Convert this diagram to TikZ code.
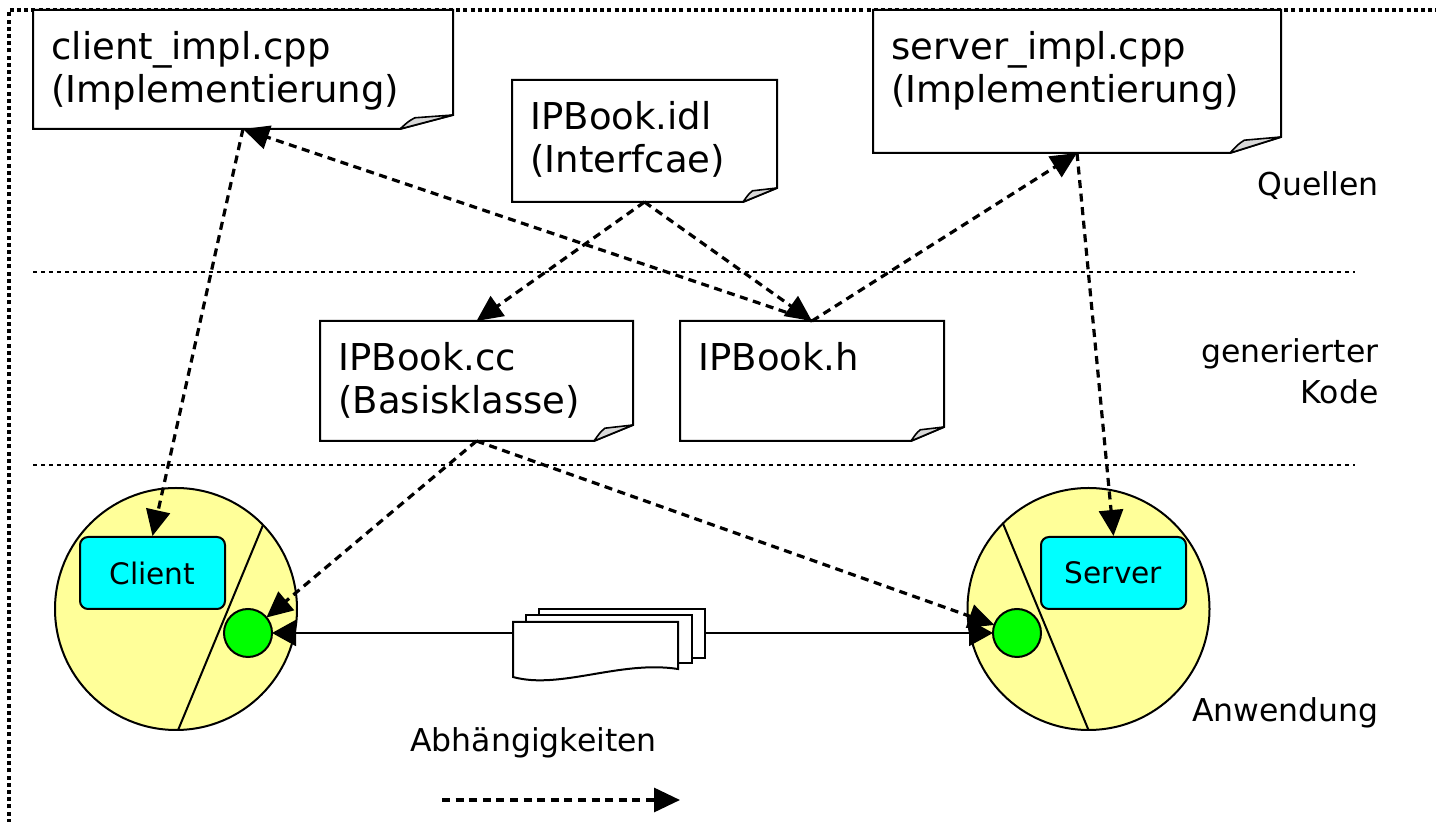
\documentclass[tikz,border=0pt]{standalone}
\usepackage{fontspec}
\setmainfont{DejaVu Sans}
\usetikzlibrary{arrows.meta,calc}
\definecolor{circfill}{HTML}{FFFF99}
\definecolor{boxcyan}{HTML}{00FFFF}
\definecolor{dotgreen}{HTML}{00FF00}
\definecolor{foldgray}{HTML}{D9D9D9}
\begin{document}
\begin{tikzpicture}[x=0.5pt,y=-0.5pt,
  docbox/.style={rectangle, draw=none, inner sep=0pt, outer sep=0pt, anchor=north west},
  doctext/.style={anchor=north west, inner sep=0pt, align=left, font=\fontsize{18.5}{21.5}\selectfont},
  docline/.style={draw=black, line width=1pt, fill=white, line join=miter},
  foldshape/.style={draw=black, line width=0.8pt, fill=foldgray, line join=round},
  dep/.style={line width=1.6pt, dash pattern=on 4pt off 2.8pt, -{Triangle[length=13pt,width=12pt]}},
  msg/.style={line width=1pt, -{Triangle[length=12pt,width=13pt]}},
  divider/.style={line width=1.2pt, dash pattern=on 2pt off 2pt},
  framestyle/.style={line width=1.6pt, dash pattern=on 2pt off 1.6pt},
  app/.style={circle, draw=black, line width=1pt, fill=circfill, minimum size=121pt, inner sep=0pt, outer sep=0pt},
  comp/.style={rectangle, rounded corners=4pt, draw=black, line width=1pt, fill=boxcyan, minimum width=72.5pt, minimum height=36pt, inner sep=0pt, font=\fontsize{14.8}{17}\selectfont},
  port/.style={circle, draw=black, line width=1pt, fill=dotgreen, minimum size=24pt, inner sep=0pt, outer sep=0pt},
  side/.style={inner sep=0pt, anchor=base east, font=\fontsize{15.75}{19}\selectfont, align=right},
]
\useasboundingbox (0,0) rectangle (1436,822);

% outer frame and dividers
\draw[framestyle] (9,830) -- (9,10) -- (1440,10);
\draw[divider] (33,272) -- (1355,272);
\draw[divider] (33,465) -- (1355,465);

% document boxes
\node[docbox, minimum width=210pt, minimum height=59.5pt] (ci) at (33,10) {};
\node[docbox, minimum width=204pt, minimum height=71.5pt] (si) at (873,10) {};
\node[docbox, minimum width=132.5pt, minimum height=61pt] (idl) at (512,80) {};
\node[docbox, minimum width=156.5pt, minimum height=60pt] (cc) at (320,321) {};
\node[docbox, minimum width=132pt, minimum height=60pt] (h) at (680,321) {};

\foreach \n/\fw/\fh in {ci/26.5pt/7pt, si/25.5pt/8pt, idl/17pt/7pt, cc/19.5pt/8pt, h/16.5pt/7pt}{
  \draw[docline] (\n.north west) -- (\n.north east) -- ([yshift=\fh]\n.south east)
     -- ([xshift=-\fw]\n.south east) -- (\n.south west) -- cycle;
  \draw[foldshape] ([xshift=-\fw]\n.south east)
     .. controls ([shift={(-0.84*\fw,0.55*\fh)}]\n.south east) .. ([shift={(-0.72*\fw,0.8*\fh)}]\n.south east)
     -- ([yshift=\fh]\n.south east) -- cycle;
}

\node[doctext] (ci-t) at ([shift={(9pt,-9.3pt)}]ci.north west) {\strut client\_impl.cpp\\\strut(Implementierung)};
\node[doctext] (si-t) at ([shift={(9pt,-9.3pt)}]si.north west) {\strut server\_impl.cpp\\\strut(Implementierung)};
\node[doctext] (idl-t) at ([shift={(9pt,-9.3pt)}]idl.north west) {\strut IPBook.idl\\\strut(Interfcae)};
\node[doctext] (cc-t) at ([shift={(9pt,-9.3pt)}]cc.north west) {\strut IPBook.cc\\\strut(Basisklasse)};
\node[doctext] (h-t) at ([shift={(9pt,-9.3pt)}]h.north west) {\strut IPBook.h};

% applications
\node[app] (capp) at (176,609) {};
\node[app] (sapp) at (1088.5,609) {};
\draw[line width=1pt] (capp.44.7) -- (capp.-89.5);
\draw[line width=1pt] (sapp.135.2) -- (sapp.-90);
\node[comp] (cbox) at (152.5,573) {Client};
\node[comp] (sbox) at (1113.5,573) {Server};
\node[port] (cport) at (248,633) {};
\node[port] (sport) at (1017,633) {};

% message (multi-document)
\begin{scope}[line width=1pt]
  \filldraw[fill=white] (539,609) rectangle (705,658);
  \filldraw[fill=white] (526,615) rectangle (692,663);
  \filldraw[fill=white] (513,622) -- (678,622) -- (678,669)
     .. controls (620,660) and (560,690) .. (513,677) -- cycle;
\end{scope}
\coordinate (msgL) at (513,633);
\coordinate (msgR) at (705,633);
\draw[msg] (msgL) -- (cport);
\draw[msg] (msgR) -- (sport);

% dependencies
\draw[dep] (ci.south) -- (cbox.north);
\draw[dep] (h.north) -- (ci.south);
\draw[dep] (idl.south) -- (cc.north);
\draw[dep] (idl.south) -- (h.north);
\draw[dep] (h.north) -- (si.south);
\draw[dep] (si.south) -- (sbox.north);
\draw[dep] (cc.south) -- (cport);
\draw[dep] (cc.south) -- (sport);

% labels
\node[side] (quellen) at (1379,196) {Quellen};
\node[side, anchor=north east, font=\fontsize{15.75}{20.5}\selectfont] (gen) at (1379,333) {\strut generierter\\\strut Kode};
\node[side] (anw) at (1379,722) {Anwendung};

% legend
\node[side, anchor=base west] (legend) at (410,751.7) {Abhängigkeiten};
\coordinate (lgA) at (442,800);
\coordinate (lgB) at (680,800);
\draw[dep] (lgA) -- (lgB);
\end{tikzpicture}
\end{document}
